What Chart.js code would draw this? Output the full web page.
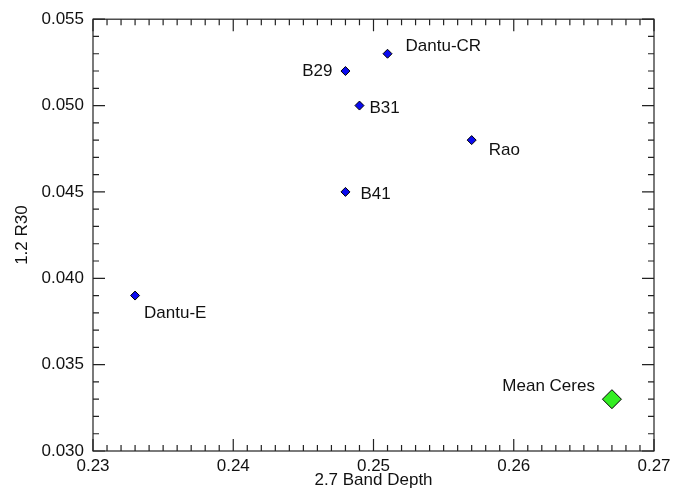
<!DOCTYPE html>
<html>
<head>
<meta charset="utf-8">
<script src="https://cdn.jsdelivr.net/npm/chart.js@4"></script>
<style>
  html, body { margin: 0; padding: 0; background: #fff; }
  #wrap { width: 685px; height: 491px; }
</style>
</head>
<body>
<div id="wrap"><canvas id="chart"></canvas></div>
<script>
// Data
const sampleNames = ['Dantu-CR', 'B29', 'B31', 'Rao', 'B41', 'Dantu-E'];
const bandDepth   = [0.251, 0.248, 0.249, 0.257, 0.248, 0.233];
const r30         = [0.053, 0.052, 0.050, 0.048, 0.045, 0.039];

const ceresName = 'Mean Ceres';
const ceresDepth = [0.267];
const ceresR30 = [0.033];

const xMin = 0.23, xMax = 0.27, xStep = 0.01;
const yMin = 0.030, yMax = 0.055, yStep = 0.005;

const FONT = '"Liberation Sans", Arial, Helvetica, sans-serif';

// where each label sits next to its marker
const labelSpots = {
    'Dantu-CR':   { dx: 18, dy: -7, align: 'left' },
    'B29':        { dx: -13, dy: 0, align: 'right' },
    'B31':        { dx: 10, dy: 3, align: 'left' },
    'Rao':        { dx: 17, dy: 10, align: 'left' },
    'B41':        { dx: 15, dy: 2, align: 'left' },
    'Dantu-E':    { dx: 9, dy: 18, align: 'left' },
    'Mean Ceres': { dx: -17, dy: -13, align: 'right' }
};

// box frame + inward ticks on all four sides
const frameTicks = {
    id: 'frameTicks',
    afterDraw(chart) {
        const { ctx, chartArea: a, scales: { x, y } } = chart;
        ctx.save();
        ctx.strokeStyle = '#222';
        ctx.lineWidth = 1.2;
        ctx.strokeRect(a.left, a.top, a.right - a.left, a.bottom - a.top);
        ctx.beginPath();
        for (let i = 0; i <= 40; i++) {
            const px = x.getPixelForValue(xMin + i * 0.001);
            const len = i % 10 === 0 ? 12 : 6;
            ctx.moveTo(px, a.bottom); ctx.lineTo(px, a.bottom - len);
            ctx.moveTo(px, a.top); ctx.lineTo(px, a.top + len);
        }
        for (let i = 0; i <= 25; i++) {
            const py = y.getPixelForValue(yMin + i * 0.001);
            const len = i % 5 === 0 ? 12 : 6;
            ctx.moveTo(a.left, py); ctx.lineTo(a.left + len, py);
            ctx.moveTo(a.right, py); ctx.lineTo(a.right - len, py);
        }
        ctx.stroke();
        ctx.restore();
    }
};

const pointLabels = {
    id: 'pointLabels',
    afterDatasetsDraw(chart) {
        const { ctx } = chart;
        ctx.save();
        ctx.font = '17px ' + FONT;
        ctx.fillStyle = '#111';
        ctx.textBaseline = 'middle';
        chart.data.datasets.forEach((ds, di) => {
            const meta = chart.getDatasetMeta(di);
            meta.data.forEach((pt, i) => {
                const name = ds.names[i];
                const s = labelSpots[name];
                ctx.textAlign = s.align;
                ctx.fillText(name, pt.x + s.dx, pt.y + s.dy);
            });
        });
        ctx.restore();
    }
};

new Chart(document.getElementById('chart'), {
    type: 'scatter',
    data: {
        datasets: [
            {
                label: 'Samples',
                names: sampleNames,
                data: bandDepth.map((v, i) => ({ x: v, y: r30[i] })),
                pointStyle: 'rectRot',
                pointRadius: 4.5,
                pointHoverRadius: 4.5,
                backgroundColor: '#0a0af0',
                borderColor: '#000',
                borderWidth: 1
            },
            {
                label: ceresName,
                names: [ceresName],
                data: ceresDepth.map((v, i) => ({ x: v, y: ceresR30[i] })),
                pointStyle: 'rectRot',
                pointRadius: 9.5,
                pointHoverRadius: 9.5,
                backgroundColor: '#33ee22',
                borderColor: '#000',
                borderWidth: 1
            }
        ]
    },
    options: {
        responsive: true,
        maintainAspectRatio: false,
        animation: false,
        layout: { padding: { top: 16, right: 31, left: 0, bottom: 0 } },
        plugins: { legend: { display: false }, tooltip: { enabled: false } },
        scales: {
            x: {
                type: 'linear',
                min: xMin, max: xMax,
                grid: { display: false, drawTicks: false },
                border: { display: false },
                ticks: {
                    stepSize: xStep,
                    padding: 5,
                    color: '#111',
                    font: { family: FONT, size: 17 },
                    maxRotation: 0,
                    callback: v => v.toFixed(2)
                },
                title: {
                    display: true,
                    text: '2.7 Band Depth',
                    color: '#111',
                    font: { family: FONT, size: 17 },
                    padding: 0
                },
                afterFit(scale) { scale.height = 40; }
            },
            y: {
                type: 'linear',
                min: yMin, max: yMax,
                grid: { display: false, drawTicks: false },
                border: { display: false },
                ticks: {
                    stepSize: yStep,
                    padding: 9,
                    color: '#111',
                    font: { family: FONT, size: 17 },
                    callback: v => v.toFixed(3)
                },
                title: {
                    display: true,
                    text: '1.2 R30',
                    color: '#111',
                    font: { family: FONT, size: 17 },
                    padding: { top: 12, bottom: 0 }
                },
                afterFit(scale) { scale.width = 93; }
            }
        }
    },
    plugins: [frameTicks, pointLabels]
});
</script>
</body>
</html>
